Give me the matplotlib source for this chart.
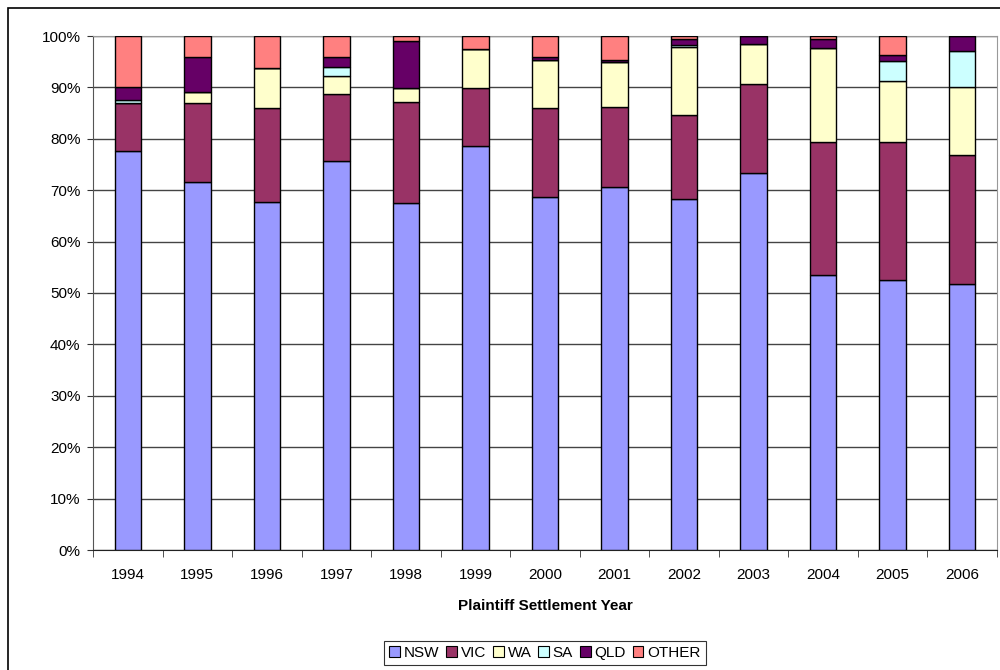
import matplotlib.pyplot as plt
import matplotlib.patches as mpatches
import numpy as np

plt.rcParams['font.family'] = ['Liberation Sans', 'DejaVu Sans']

years = ['1994', '1995', '1996', '1997', '1998', '1999', '2000',
         '2001', '2002', '2003', '2004', '2005', '2006']
states = ['NSW', 'VIC', 'WA', 'SA', 'QLD', 'OTHER']
colors = ['#9999FF', '#993366', '#FFFFCC', '#CCFFFF', '#660066', '#FF8080']

# percentage shares
nsw = [77.6, 71.6, 67.8, 75.7, 67.5, 78.6, 68.7, 70.6, 68.3, 73.4, 53.5, 52.5, 51.7]
vic = [9.4, 15.4, 18.2, 13.1, 19.7, 11.2, 17.2, 15.5, 16.3, 17.3, 25.9, 26.9, 25.1]
wa = [0.0, 2.1, 7.8, 3.4, 2.6, 7.6, 9.4, 8.8, 13.3, 7.7, 18.2, 11.8, 13.3]
sa = [0.5, 0.0, 0.0, 1.8, 0.0, 0.0, 0.0, 0.0, 0.3, 0.0, 0.0, 3.9, 7.0]
qld = [2.6, 6.9, 0.0, 1.9, 9.2, 0.0, 0.7, 0.4, 1.2, 1.6, 1.8, 1.3, 2.9]
other = [9.9, 4.0, 6.2, 4.1, 1.0, 2.6, 4.0, 4.7, 0.6, 0.0, 0.6, 3.6, 0.0]

series = [nsw, vic, wa, sa, qld, other]

fig = plt.figure(figsize=(10, 6.7), dpi=100)
ax = fig.add_axes([0.093, 1 - 550 / 670, 0.904, 514 / 670])

# outer chart border
fig.patches.append(mpatches.Rectangle((8 / 1000, -0.1), 1.2, 1 - 8 / 670 + 0.1,
                                      transform=fig.transFigure, fill=False,
                                      edgecolor='black', linewidth=1.2))

x = np.arange(len(years))
bottom = np.zeros(len(years))
for vals, name, col in zip(series, states, colors):
    v = np.array(vals)
    ax.bar(x, v, 0.38, bottom=bottom, color=col, edgecolor='black',
           linewidth=1, label=name, zorder=3)
    bottom += v

ax.set_xlim(-0.5, len(years) - 0.5)
ax.set_ylim(0, 100)
ax.set_yticks(np.arange(0, 101, 10))
ax.set_yticklabels([f'{t}%' for t in range(0, 101, 10)], fontsize=11)
ax.set_xticks(x)
ax.set_xticklabels(years, fontsize=11)
ax.set_xticks(np.arange(-0.5, len(years)), minor=True)
ax.tick_params(axis='x', which='major', length=0, pad=13)
ax.tick_params(axis='x', which='minor', length=5, direction='out', color='#333333')
ax.tick_params(axis='y', length=4, direction='out', color='#333333', pad=5)
ax.yaxis.grid(True, color='#444444', linewidth=1, zorder=0)

for s in ['top', 'right']:
    ax.spines[s].set_color('#999999')
ax.spines['left'].set_color('#555555')
ax.spines['bottom'].set_color('#222222')

ax.set_xlabel('Plaintiff Settlement Year', fontsize=11, fontweight='bold', labelpad=12)

handles = [mpatches.Patch(facecolor=c, edgecolor='black', linewidth=0.8) for c in colors]
leg = fig.legend(handles, states, loc='center', bbox_to_anchor=(0.545, 1 - 653 / 670),
                 ncol=6, fontsize=11, frameon=True, fancybox=False, edgecolor='black',
                 handlelength=0.7, handleheight=0.7, handletextpad=0.25,
                 columnspacing=0.45, borderpad=0.35)
leg.get_frame().set_linewidth(0.8)

fig.savefig('out.png', dpi=100)
